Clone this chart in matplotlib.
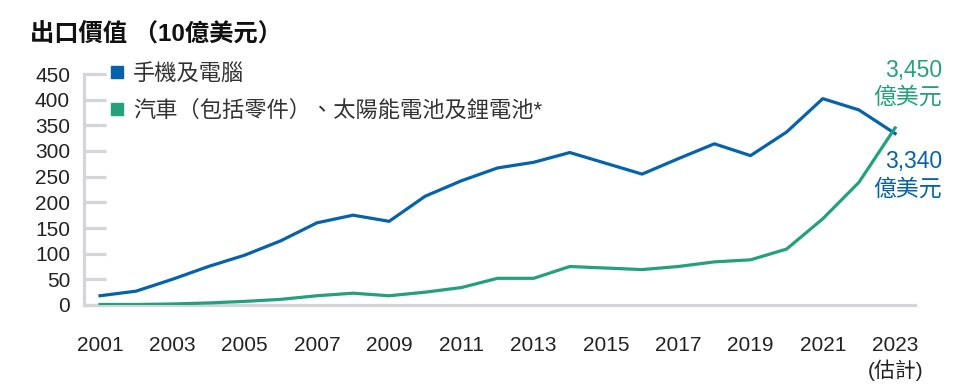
import matplotlib
matplotlib.use("Agg")
import matplotlib.pyplot as plt
from matplotlib.lines import Line2D

plt.rcParams['font.family'] = ['Liberation Sans', 'Noto Sans CJK TC', 'DejaVu Sans']

years = list(range(2001, 2024))
phones_pcs = [18, 27, 50, 75, 97, 125, 160, 175, 163, 212, 242, 267, 278, 297, 276, 255,
              285, 314, 291, 337, 402, 380, 334]
autos_batteries = [1, 1, 2, 4, 7, 11, 18, 23, 18, 25, 34, 52, 52, 75, 72, 69,
                   75, 84, 88, 109, 168, 239, 345]
series_names = ['手機及電腦', '汽車（包括零件）、太陽能電池及鋰電池*']
title = '出口價值 （10億美元）'
xtick_years = list(range(2001, 2024, 2))
xtick_labels = [str(y) for y in xtick_years[:-1]] + ['2023\n(估計)']
yticks = list(range(0, 451, 50))
end_labels = ['3,340\n億美元', '3,450\n億美元']

BLUE = '#0562AB'
GREEN = '#23A07C'
GRAY = '#D3D5D8'
TXT = '#222222'

fig = plt.figure(figsize=(9.6, 3.9), dpi=100)
ax = fig.add_axes([84/960, 1-305/390, (915-84)/960, (305-74)/390])

ax.plot(years, phones_pcs, color=BLUE, lw=2.3, zorder=3)
ax.plot(years, autos_batteries, color=GREEN, lw=2.3, zorder=3)

ax.set_xlim(2001 - 16/36.14, 2001 + (915-100)/36.14)
ax.set_ylim(0, 450)

for s in ['top', 'right']:
    ax.spines[s].set_visible(False)
for s in ['left', 'bottom']:
    ax.spines[s].set_color(GRAY)
    ax.spines[s].set_linewidth(2.3)

ax.set_yticks(yticks)
ax.set_yticklabels([str(v) for v in yticks])
ax.tick_params(axis='y', direction='in', length=16, width=2.3, color=GRAY,
               labelsize=15, labelcolor=TXT, pad=10)
ax.set_xticks(xtick_years)
ax.set_xticklabels(xtick_labels, linespacing=1.3)
ax.tick_params(axis='x', length=0, labelsize=15, labelcolor=TXT, pad=22)

fig.text(30/960, 1-34/390, title, fontsize=17.5, fontweight='bold', color='#111111',
         va='center', ha='left')

handles = [Line2D([0], [0], marker='s', color='none', markerfacecolor=c, markeredgecolor=c,
                  markersize=9) for c in (BLUE, GREEN)]
leg = ax.legend(handles, series_names, loc='upper left',
                bbox_to_anchor=(110/960, 1-64/390), bbox_transform=fig.transFigure,
                frameon=False, fontsize=16, handlelength=0.65, handletextpad=0.4,
                borderpad=0, borderaxespad=0, labelspacing=0.72)
for t in leg.get_texts():
    t.set_color('#333333')

ax.annotate(end_labels[1], xy=(years[-1], autos_batteries[-1]), xytext=(47, 44),
            textcoords='offset pixels', ha='right', va='center', fontsize=16.5,
            color=GREEN, linespacing=1.25, annotation_clip=False)
ax.annotate(end_labels[0], xy=(years[-1], phones_pcs[-1]), xytext=(47, -42),
            textcoords='offset pixels', ha='right', va='center', fontsize=16.5,
            color=BLUE, linespacing=1.25, annotation_clip=False)

fig.savefig('out.png', dpi=100)
